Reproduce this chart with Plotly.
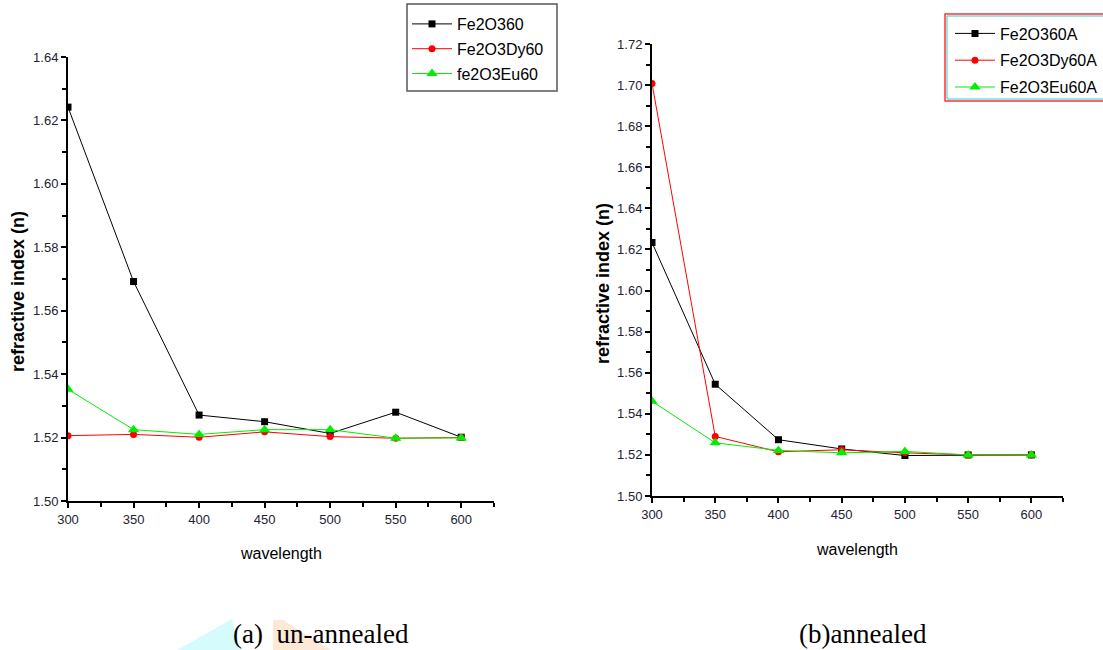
import plotly.graph_objects as go

wavelength = [300, 350, 400, 450, 500, 550, 600]

# (a) un-annealed
fe2o360 = [1.6242, 1.5692, 1.5271, 1.5250, 1.5213, 1.5280, 1.5201]
fe2o3dy60 = [1.5206, 1.5210, 1.5201, 1.5218, 1.5203, 1.5198, 1.5200]
fe2o3eu60 = [1.5352, 1.5225, 1.5210, 1.5225, 1.5225, 1.5198, 1.5199]

# (b) annealed
fe2o360a = [1.6234, 1.5544, 1.5274, 1.5229, 1.5197, 1.5200, 1.5200]
fe2o3dy60a = [1.7008, 1.5290, 1.5215, 1.5225, 1.5210, 1.5200, 1.5200]
fe2o3eu60a = [1.5461, 1.5259, 1.5222, 1.5210, 1.5217, 1.5200, 1.5200]

names_a = ["Fe2O360", "Fe2O3Dy60", "fe2O3Eu60"]
names_b = ["Fe2O360A", "Fe2O3Dy60A", "Fe2O3Eu60A"]
captions = ["(a)  un-annealed", "(b)annealed"]
x_title = "wavelength"
y_title = "refractive index (n)"

colors = ["#000000", "#ff0000", "#00ee00"]
symbols = ["square", "circle", "triangle-up"]
msizes = [7, 7, 10]

W, H = 1103, 650

def px(x):
    return x / W

def py(y):
    return 1 - y / H

fig = go.Figure()

for i, (ys, nm, c, s, ms) in enumerate(zip([fe2o360, fe2o3dy60, fe2o3eu60], names_a, colors, symbols, msizes)):
    fig.add_trace(go.Scatter(x=wavelength, y=ys, name=nm, mode="lines+markers",
                             line=dict(color=c, width=1), marker=dict(color=c, symbol=s, size=ms),
                             xaxis="x", yaxis="y", legend="legend", legendgroup=f"a{i}"))
for i, (ys, nm, c, s, ms) in enumerate(zip([fe2o360a, fe2o3dy60a, fe2o3eu60a], names_b, colors, symbols, msizes)):
    fig.add_trace(go.Scatter(x=wavelength, y=ys, name=nm, mode="lines+markers",
                             line=dict(color=c, width=1), marker=dict(color=c, symbol=s, size=ms),
                             xaxis="x2", yaxis="y2", legend="legend2", legendgroup=f"b{i}"))

tickfont = dict(family="Arial, Liberation Sans", size=13, color="#222233")
axis_common = dict(showline=True, linecolor="black", linewidth=2, ticks="outside",
                   ticklen=5, tickwidth=2, tickcolor="black", showgrid=False, zeroline=False,
                   tickfont=tickfont, mirror=False, automargin=False)
minor_common = dict(ticks="outside", ticklen=4, tickwidth=2, tickcolor="black")

fig.update_layout(
    width=W, height=H, margin=dict(l=0, r=0, t=0, b=0, autoexpand=False),
    paper_bgcolor="white", plot_bgcolor="white",
    showlegend=True,
    xaxis=dict(domain=[px(68), px(494)], range=[300, 625], dtick=50, tick0=300,
               minor=dict(dtick=25, **minor_common), anchor="y", **axis_common),
    yaxis=dict(domain=[py(501), py(57)], range=[1.50, 1.64], dtick=0.02, tick0=1.50,
               tickformat=".2f", minor=dict(dtick=0.01, **minor_common), anchor="x", **axis_common),
    xaxis2=dict(domain=[px(652), px(1063)], range=[300, 625], dtick=50, tick0=300,
                minor=dict(dtick=25, **minor_common), anchor="y2", **axis_common),
    yaxis2=dict(domain=[py(496), py(44)], range=[1.50, 1.72], dtick=0.02, tick0=1.50,
                tickformat=".2f", minor=dict(dtick=0.01, **minor_common), anchor="x2", **axis_common),
    legend=dict(x=px(407), y=py(7), xanchor="left", yanchor="top",
                bgcolor="rgba(255,255,255,0)", borderwidth=0,
                font=dict(family="Arial, Liberation Sans", size=16, color="black"),
                itemwidth=40, tracegroupgap=1),
    legend2=dict(x=px(950), y=py(16.5), xanchor="left", yanchor="top",
                 bgcolor="rgba(255,255,255,0)", borderwidth=0,
                 font=dict(family="Arial, Liberation Sans", size=16, color="black"),
                 itemwidth=40, tracegroupgap=3),
)

# legend frames
fig.add_shape(type="rect", xref="paper", yref="paper", x0=px(407), x1=px(557), y0=py(91), y1=py(4),
              line=dict(color="#555555", width=1.5), layer="below")
fig.add_shape(type="rect", xref="paper", yref="paper", x0=px(945), x1=px(1110), y0=py(101), y1=py(14),
              line=dict(color="#ff3333", width=1.5), layer="below")
fig.add_shape(type="rect", xref="paper", yref="paper", x0=px(947), x1=px(1110), y0=py(99), y1=py(16),
              line=dict(color="#33cccc", width=1), layer="below")

# decorative highlight patches behind caption (a)
fig.add_shape(type="path", xref="paper", yref="paper",
              path=f"M {px(177)} {py(650)} L {px(232)} {py(619)} L {px(240)} {py(650)} Z",
              fillcolor="#d6fbfc", line=dict(width=0), layer="below")
fig.add_shape(type="path", xref="paper", yref="paper",
              path=f"M {px(273)} {py(650)} L {px(273)} {py(620)} L {px(283)} {py(620)} L {px(331)} {py(650)} Z",
              fillcolor="#fde9d6", line=dict(width=0), layer="below")

title_font = dict(family="Arial, Liberation Sans", size=16, color="black")
ytitle_font = dict(family="Arial, Liberation Sans", size=18, color="black")

def ann(text, x, y, font, angle=0, xanchor="center"):
    fig.add_annotation(text=text, xref="paper", yref="paper", x=px(x), y=py(y),
                       xanchor=xanchor, yanchor="middle", showarrow=False,
                       textangle=angle, font=font)

ann(x_title, 281, 553, title_font)
ann(x_title, 857, 549, title_font)
ann("<b>" + y_title + "</b>", 18, 292, ytitle_font, angle=-90)
ann("<b>" + y_title + "</b>", 603, 284, ytitle_font, angle=-90)

cap_font = dict(family="Liberation Serif, Times New Roman, serif", size=27, color="black")
ann(captions[0], 231, 634, cap_font, xanchor="left")
ann(captions[1], 797, 634, cap_font, xanchor="left")

fig.write_html("out.html")
